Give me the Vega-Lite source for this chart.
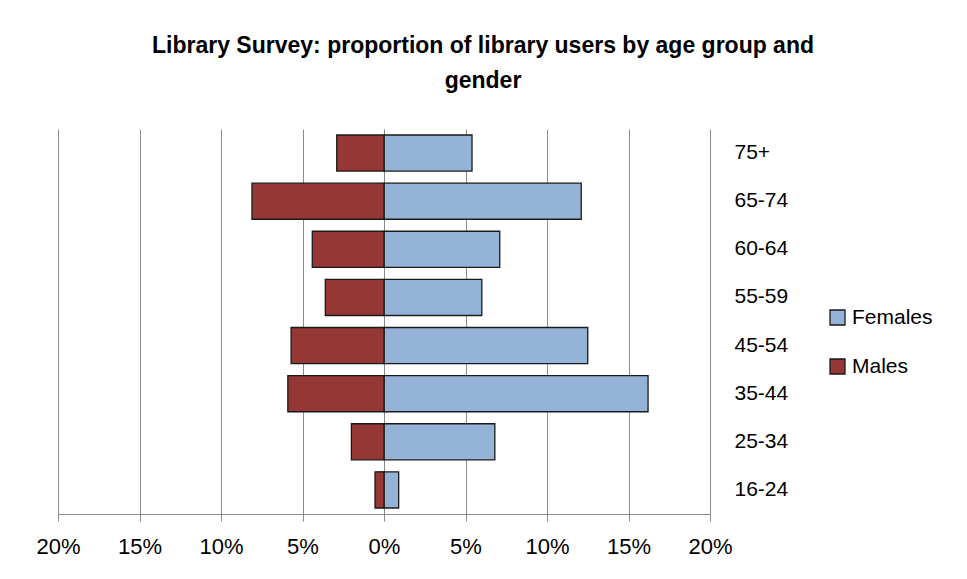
{
  "$schema": "https://vega.github.io/schema/vega-lite/v6.json",
  "width": 652,
  "height": 385,
  "autosize": {"type": "none"},
  "padding": {"left": 58, "top": 129, "right": 257, "bottom": 65},
  "background": "white",
  "title": {
    "text": ["Library Survey: proportion of library users by age group and", "gender"],
    "font": "Liberation Sans",
    "fontSize": 23,
    "fontWeight": "bold",
    "color": "#000000",
    "anchor": "middle",
    "frame": "group",
    "dx": 99,
    "lineHeight": 35,
    "offset": 36
  },
  "config": {
    "view": {"stroke": null},
    "font": "Liberation Sans"
  },
  "data": {
    "values": [
      {"age": "75+", "gender": "Females", "value": 5.4},
      {"age": "75+", "gender": "Males", "value": -2.9},
      {"age": "65-74", "gender": "Females", "value": 12.1},
      {"age": "65-74", "gender": "Males", "value": -8.1},
      {"age": "60-64", "gender": "Females", "value": 7.1},
      {"age": "60-64", "gender": "Males", "value": -4.4},
      {"age": "55-59", "gender": "Females", "value": 6.0},
      {"age": "55-59", "gender": "Males", "value": -3.6},
      {"age": "45-54", "gender": "Females", "value": 12.5},
      {"age": "45-54", "gender": "Males", "value": -5.7},
      {"age": "35-44", "gender": "Females", "value": 16.2},
      {"age": "35-44", "gender": "Males", "value": -5.9},
      {"age": "25-34", "gender": "Females", "value": 6.8},
      {"age": "25-34", "gender": "Males", "value": -2.0},
      {"age": "16-24", "gender": "Females", "value": 0.9},
      {"age": "16-24", "gender": "Males", "value": -0.55}
    ]
  },
  "layer": [
    {
      "mark": {"type": "bar", "stroke": "#1a1a1a", "strokeWidth": 1.3},
      "encoding": {
        "y": {
          "field": "age",
          "type": "nominal",
          "sort": ["75+", "65-74", "60-64", "55-59", "45-54", "35-44", "25-34", "16-24"],
          "scale": {"paddingInner": 0.25, "paddingOuter": 0.125},
          "axis": {
            "orient": "left",
            "offset": -326,
            "labels": false,
            "title": null,
            "domain": true,
            "domainColor": "#868686",
            "domainWidth": 1,
            "ticks": true,
            "tickColor": "#868686",
            "tickWidth": 1,
            "tickSize": 7,
            "bandPosition": 0,
            "grid": false
          }
        },
        "x": {
          "field": "value",
          "type": "quantitative",
          "scale": {"domain": [-20, 20], "nice": false},
          "axis": {
            "values": [-20, -15, -10, -5, 0, 5, 10, 15, 20],
            "labelExpr": "abs(datum.value) + '%'",
            "labelFlush": false,
            "labelOverlap": false,
            "title": null,
            "grid": true,
            "gridColor": "#8c8c8c",
            "gridWidth": 1,
            "domainColor": "#8c8c8c",
            "tickColor": "#8c8c8c",
            "tickSize": 7,
            "labelPadding": 15,
            "labelFontSize": 22,
            "labelColor": "#000000",
            "labelFont": "Liberation Sans"
          }
        },
        "color": {
          "field": "gender",
          "type": "nominal",
          "scale": {"domain": ["Females", "Males"], "range": ["#95B3D7", "#953735"]},
          "legend": {
            "title": null,
            "orient": "none",
            "legendX": 769,
            "legendY": 178,
            "symbolType": "square",
            "symbolSize": 225,
            "symbolStrokeColor": "#1a1a1a",
            "symbolStrokeWidth": 1.3,
            "symbolOpacity": 1,
            "labelFontSize": 21,
            "labelFont": "Liberation Sans",
            "labelColor": "#000000",
            "labelOffset": 4,
            "rowPadding": 27
          }
        }
      }
    },
    {
      "mark": {"type": "bar", "opacity": 0},
      "encoding": {
        "y": {
          "field": "age",
          "type": "nominal",
          "sort": ["75+", "65-74", "60-64", "55-59", "45-54", "35-44", "25-34", "16-24"],
          "axis": {
            "orient": "right",
            "title": null,
            "domain": false,
            "ticks": false,
            "grid": false,
            "labelPadding": 24,
            "labelAlign": "left",
            "labelFontSize": 21,
            "labelColor": "#000000",
            "labelFont": "Liberation Sans"
          }
        },
        "x": {"field": "value", "type": "quantitative"}
      }
    }
  ],
  "resolve": {"axis": {"y": "independent"}}
}
